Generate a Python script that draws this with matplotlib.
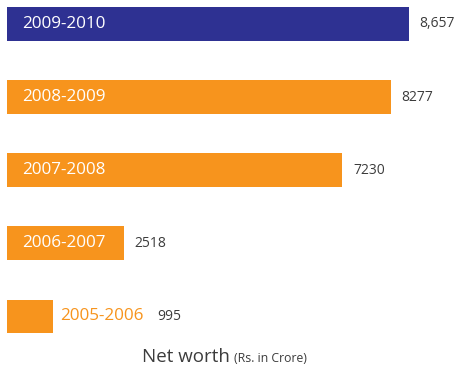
import matplotlib
matplotlib.use("Agg")
import matplotlib.pyplot as plt

years = ["2009-2010", "2008-2009", "2007-2008", "2006-2007", "2005-2006"]
values = [8657, 8277, 7230, 2518, 995]
value_labels = ["8,657", "8277", "7230", "2518", "995"]

navy = "#2E3192"
orange = "#F7941D"
dark = "#3C3C3C"

plt.rcParams['font.family'] = ['Open Sans', 'DejaVu Sans']

fig = plt.figure(figsize=(4.6, 3.7), dpi=100)
ax = fig.add_axes([7/460, 0, 453/460, 1])
ax.set_xlim(0, 453/0.0464)
ax.set_ylim(4.733, -0.328)
ax.axis('off')

colors = [navy] + [orange]*4
ax.barh(range(len(years)), values, height=0.46, color=colors)

for i, (yr, v, lab) in enumerate(zip(years, values, value_labels)):
    if i < 4:
        ax.annotate(yr, (0, i), xytext=(11, 0), textcoords='offset points',
                    color='white', fontsize=12.3, va='center', ha='left')
        ax.annotate(lab, (v, i), xytext=(7.5, 0), textcoords='offset points',
                    color=dark, fontsize=10, va='center', ha='left')
    else:
        ax.annotate(yr, (v, i), xytext=(5, 0), textcoords='offset points',
                    color=orange, fontsize=12.3, va='center', ha='left')
        ax.annotate(lab, (v, i), xytext=(75, 0), textcoords='offset points',
                    color=dark, fontsize=10, va='center', ha='left')

fig.text(230/460, 0.022, "Net worth", fontsize=13.5, color=dark, ha='right', va='baseline')
fig.text(234/460, 0.022, "(Rs. in Crore)", fontsize=8.8, color=dark, ha='left', va='baseline')

fig.savefig("out.png", dpi=100)
